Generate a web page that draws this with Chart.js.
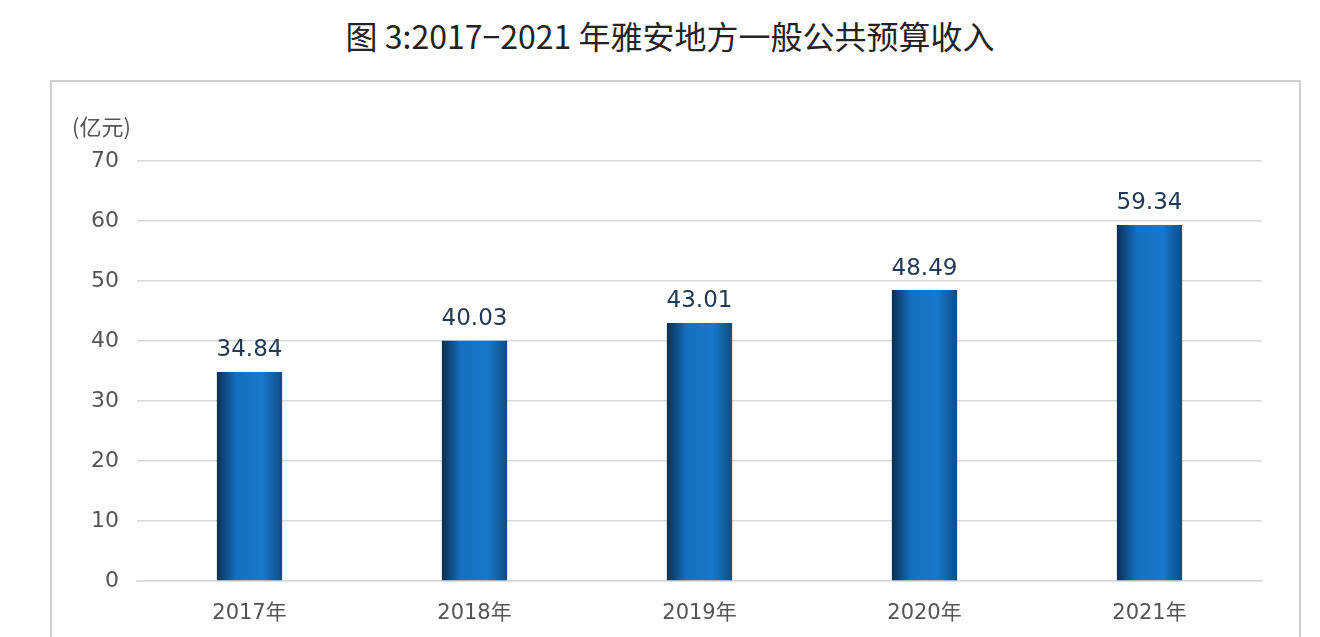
<!DOCTYPE html>
<html>
<head>
<meta charset="utf-8">
<script src="https://cdn.jsdelivr.net/npm/chart.js@4/dist/chart.umd.min.js"></script>
<style>
  body { margin: 0; background: #fff; width: 1320px; height: 637px; overflow: hidden; position: relative; font-family: "Noto Sans CJK SC", sans-serif; }
  #title { position: absolute; top: 12px; left: 0; width: 1340px; text-align: center; font-size: 32px; color: #222; }
  #box { position: absolute; left: 50px; top: 80px; width: 1247px; height: 600px; border: 2px solid #cfcfcf; }
  canvas { position: absolute; left: 0; top: 0; }
</style>
</head>
<body>
<div id="title">图 3:2017−2021 年雅安地方一般公共预算收入</div>
<div id="box"></div>
<canvas id="c" width="1320" height="637"></canvas>
<script>
const years = ['2017年', '2018年', '2019年', '2020年', '2021年'];
const revenue = [34.84, 40.03, 43.01, 48.49, 59.34];
const unitLabel = '(亿元)';
const barPct = 0.29;

// bar shading: dark edges, bright blue middle
function barFill(ctx) {
    const chart = ctx.chart;
    const xs = chart.scales.x;
    if (!xs || !chart.chartArea) return '#1470c0';
    const cx = xs.getPixelForValue(ctx.dataIndex);
    const w = (chart.chartArea.width / years.length) * barPct;
    const g = chart.ctx.createLinearGradient(cx - w / 2, 0, cx + w / 2, 0);
    g.addColorStop(0, '#0b2f50');
    g.addColorStop(0.3, '#1470c2');
    g.addColorStop(0.7, '#1878cc');
    g.addColorStop(1, '#0f4c82');
    return g;
}

const labelsPlugin = {
    id: 'labels',
    afterDatasetsDraw(chart) {
        const c = chart.ctx;
        c.save();
        c.font = '23px "DejaVu Sans", sans-serif';
        c.fillStyle = '#233a56';
        c.textAlign = 'center';
        c.textBaseline = 'bottom';
        chart.getDatasetMeta(0).data.forEach((bar, i) => {
            c.fillText(revenue[i].toFixed(2), bar.x, bar.y - 10);
        });
        c.font = '22px "Noto Sans CJK SC", sans-serif';
        c.fillStyle = '#555';
        c.textAlign = 'left';
        c.fillText(unitLabel, 72, 138);
        c.restore();
    }
};

new Chart(document.getElementById('c').getContext('2d'), {
    type: 'bar',
    data: {
        labels: years,
        datasets: [{
            data: revenue,
            backgroundColor: barFill,
            categoryPercentage: 1,
            barPercentage: barPct
        }]
    },
    options: {
        responsive: false,
        animation: false,
        layout: { padding: { left: 75, right: 58, top: 161, bottom: 0 } },
        plugins: { legend: { display: false }, tooltip: { enabled: false } },
        scales: {
            y: {
                min: 0, max: 70,
                ticks: { stepSize: 10, color: '#555', font: { size: 22, family: 'DejaVu Sans' }, padding: 18 },
                grid: { color: '#d5d9dc', lineWidth: 1.5, drawTicks: false },
                border: { display: false },
                afterFit: s => { s.width = 62; }
            },
            x: {
                ticks: { color: '#555', font: { size: 21, family: '"DejaVu Sans", "Noto Sans CJK SC", sans-serif' }, padding: 12 },
                grid: { display: false },
                border: { color: '#d5d9dc', width: 1.5 },
                afterFit: s => { s.height = 56; }
            }
        }
    },
    plugins: [labelsPlugin]
});
</script>
</body>
</html>
